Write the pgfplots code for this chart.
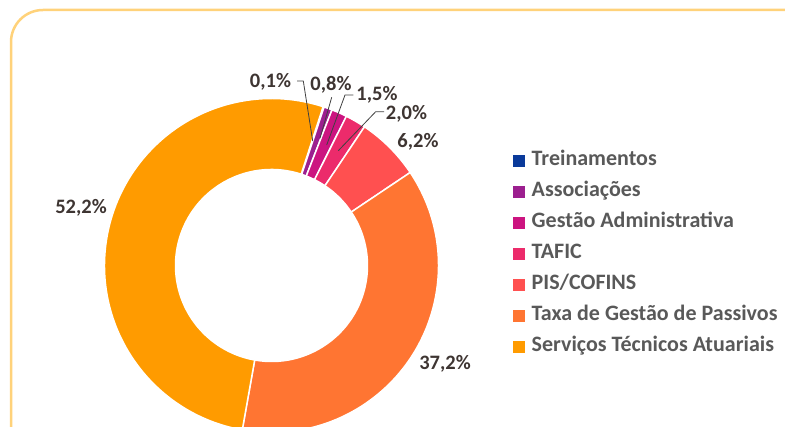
\documentclass[border=0pt]{standalone}
\usepackage{fontspec}
\setmainfont{Carlito}
\usepackage{pgfplots}
\usepackage{pgfplotstable}
\pgfplotsset{compat=1.18}
\definecolor{cTre}{HTML}{0A3A9A}
\definecolor{cAss}{HTML}{9C1F8F}
\definecolor{cGes}{HTML}{CC1480}
\definecolor{cTaf}{HTML}{EC2B6B}
\definecolor{cPis}{HTML}{FF5050}
\definecolor{cTax}{HTML}{FF7532}
\definecolor{cSer}{HTML}{FF9B00}
\definecolor{labtext}{HTML}{3E3532}
\definecolor{legtext}{HTML}{595959}
\definecolor{frame}{HTML}{FFD27A}
\definecolor{leader}{HTML}{404040}

\pgfplotstableread[col sep=semicolon]{
name;value;col
Treinamentos;0.1;cTre
Associacoes;0.8;cAss
Gestao;1.5;cGes
TAFIC;2.0;cTaf
PIS;6.2;cPis
Taxa;37.2;cTax
Servicos;52.2;cSer
}\donutdata

\begin{document}
\begin{tikzpicture}
\clip (0,0) rectangle (785pt,427pt);
\begin{axis}[
  at={(0,0)}, anchor=south west,
  scale only axis, width=785pt, height=427pt,
  xmin=0, xmax=785, ymin=0, ymax=427,
  axis lines=none, clip=false,
  legend image code/.code={\fill[#1] (0pt,-6pt) rectangle (12pt,6pt);},
  legend cell align=left,
  legend style={at={(axis cs:510,277.5)}, anchor=north west, draw=none, fill=none,
    font=\fontsize{22}{26}\selectfont\bfseries, text=legtext,
    column sep=6.5pt, row sep=13pt,
    nodes={inner sep=0pt, text height=14pt, text depth=4pt}},
]
% frame
\draw[frame, line width=2.5pt, rounded corners=32pt] (axis cs:11,-60) -- (axis cs:11,417) -- (axis cs:900,417);

% donut slices from the data table
\gdef\astart{72}
\pgfplotsinvokeforeach{0,...,6}{
  \pgfplotstablegetelem{#1}{value}\of\donutdata
  \let\sliceval\pgfplotsretval
  \pgfplotstablegetelem{#1}{col}\of\donutdata
  \let\slicecol\pgfplotsretval
  \pgfmathsetmacro\aend{\astart-3.6*\sliceval}
  \edef\cmd{\noexpand\fill[fill=\slicecol, draw=white, line width=1.5pt]
    (axis cs:{271.5+167*cos(\astart)},{161.5+167*sin(\astart)})
    arc[start angle=\astart, end angle=\aend, radius=167pt]
    -- (axis cs:{271.5+96*cos(\aend)},{161.5+96*sin(\aend)})
    arc[start angle=\aend, end angle=\astart, radius=96pt] -- cycle;}
  \cmd
  \global\let\astart\aend
}

\addlegendimage{fill=cTre, draw=none}\addlegendentry{Treinamentos}
\addlegendimage{fill=cAss, draw=none}\addlegendentry{Associações}
\addlegendimage{fill=cGes, draw=none}\addlegendentry{Gestão Administrativa}
\addlegendimage{fill=cTaf, draw=none}\addlegendentry{TAFIC}
\addlegendimage{fill=cPis, draw=none}\addlegendentry{PIS/COFINS}
\addlegendimage{fill=cTax, draw=none}\addlegendentry{Taxa de Gestão de Passivos}
\addlegendimage{fill=cSer, draw=none}\addlegendentry{Serviços Técnicos Atuariais}

% leader lines
\draw[leader, line width=0.8pt] (axis cs:297,346) -- (axis cs:303.3,346) -- (axis cs:312.7,286);
\draw[leader, line width=0.8pt] (axis cs:331.7,329.7) -- (axis cs:320,288.7);
\draw[leader, line width=0.8pt] (axis cs:353.3,332) -- (axis cs:345,332) -- (axis cs:326.7,282);
\draw[leader, line width=0.8pt] (axis cs:384,315.3) -- (axis cs:375.7,315.3) -- (axis cs:338.3,276.3);

% data labels
\tikzset{lab/.style={anchor=base, inner sep=0pt, text=labtext, font=\fontsize{20.5}{24}\selectfont\bfseries}}
\node[lab] at (axis cs:270.5,339) {0,1\%};
\node[lab] at (axis cs:331,336.3) {0,8\%};
\node[lab] at (axis cs:377,326.3) {1,5\%};
\node[lab] at (axis cs:406.5,307) {2,0\%};
\node[lab] at (axis cs:418,279.7) {6,2\%};
\node[lab] at (axis cs:81,213.7) {52,2\%};
\node[lab] at (axis cs:445,57) {37,2\%};
\end{axis}
\end{tikzpicture}
\end{document}
